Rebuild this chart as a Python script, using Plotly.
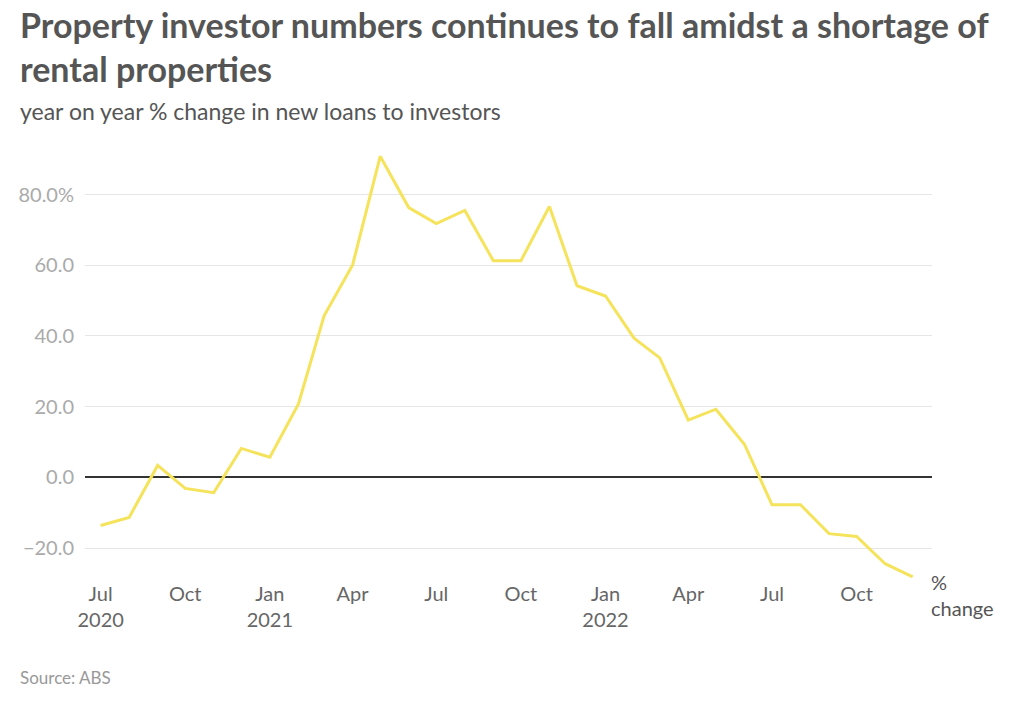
import plotly.graph_objects as go

months = ["2020-07-01", "2020-08-01", "2020-09-01", "2020-10-01", "2020-11-01", "2020-12-01",
          "2021-01-01", "2021-02-01", "2021-03-01", "2021-04-01", "2021-05-01", "2021-06-01",
          "2021-07-01", "2021-08-01", "2021-09-01", "2021-10-01", "2021-11-01", "2021-12-01",
          "2022-01-01", "2022-02-01", "2022-03-01", "2022-04-01", "2022-05-01", "2022-06-01",
          "2022-07-01", "2022-08-01", "2022-09-01", "2022-10-01", "2022-11-01", "2022-12-01"]
pct_change = [-13.6, -11.3, 3.4, -3.1, -4.3, 8.2,
              5.7, 20.7, 45.7, 60.1, 90.8, 76.3,
              71.8, 75.5, 61.3, 61.3, 76.6, 54.2,
              51.3, 39.4, 33.8, 16.2, 19.3, 9.4,
              -7.7, -7.7, -15.9, -16.7, -24.4, -28.1]

tick_vals = ["2020-07-01", "2020-10-01", "2021-01-01", "2021-04-01", "2021-07-01", "2021-10-01",
             "2022-01-01", "2022-04-01", "2022-07-01", "2022-10-01"]
tick_text = ["Jul<br>2020", "Oct", "Jan<br>2021", "Apr", "Jul", "Oct",
             "Jan<br>2022", "Apr", "Jul", "Oct"]
y_ticks = [-20, 0, 20, 40, 60, 80]
y_text = ["−20.0", "0.0", "20.0", "40.0", "60.0", "80.0%"]

FONT = "Lato, 'Open Sans', sans-serif"
L, R, T, B = 85, 932, 145, 580
PW, PH = R - L, B - T


def px(xp):
    return (xp - L) / PW


def py(yp):
    return (B - yp) / PH


fig = go.Figure()
fig.add_trace(go.Scatter(
    x=months, y=pct_change, mode="lines",
    line=dict(color="#f5e35c", width=3),
    hoverinfo="skip", showlegend=False,
))

fig.add_annotation(
    x=months[-1], y=pct_change[-1], xref="x", yref="y",
    text="%<br>change", showarrow=False, xanchor="left", yanchor="top",
    xshift=16, yshift=9, align="left",
    font=dict(family=FONT, size=20, color="#555555"),
)

fig.update_layout(
    width=1024, height=723,
    paper_bgcolor="white", plot_bgcolor="white",
    margin=dict(l=L, r=1024 - R, t=T, b=723 - B),
    font=dict(family=FONT),
    xaxis=dict(
        type="date",
        range=["2020-06-14", "2022-12-22"],
        tickvals=tick_vals, ticktext=tick_text,
        showgrid=False, zeroline=False, showline=False, ticks="",
        tickfont=dict(family=FONT, size=20, color="#666666"),
    ),
    yaxis=dict(
        range=[-29, 94],
        tickvals=y_ticks, ticktext=y_text,
        showgrid=True, gridcolor="#e6e6e6", gridwidth=1,
        zeroline=True, zerolinecolor="#333333", zerolinewidth=1.5,
        showline=False, ticks="",
        tickfont=dict(family=FONT, size=20, color="#aaaaaa"),
        ticklabelstandoff=10,
    ),
)

for text, ypix in [("<b>Property investor numbers continues to fall amidst a shortage of</b>", 25),
                   ("<b>rental properties</b>", 68)]:
    fig.add_annotation(
        text=text, xref="paper", yref="paper", x=px(18), y=py(ypix),
        xanchor="left", yanchor="middle", showarrow=False,
        font=dict(family=FONT, size=34, color="#555555"),
    )

fig.add_annotation(
    text="year on year % change in new loans to investors",
    xref="paper", yref="paper", x=px(18), y=py(111),
    xanchor="left", yanchor="middle", showarrow=False,
    font=dict(family=FONT, size=23, color="#555555"),
)
fig.add_annotation(
    text="Source: ABS",
    xref="paper", yref="paper", x=px(18), y=py(677),
    xanchor="left", yanchor="middle", showarrow=False,
    font=dict(family=FONT, size=17, color="#999999"),
)

fig.write_html("out.html", config={"displayModeBar": False},
               post_script="document.body.style.margin='0';")
